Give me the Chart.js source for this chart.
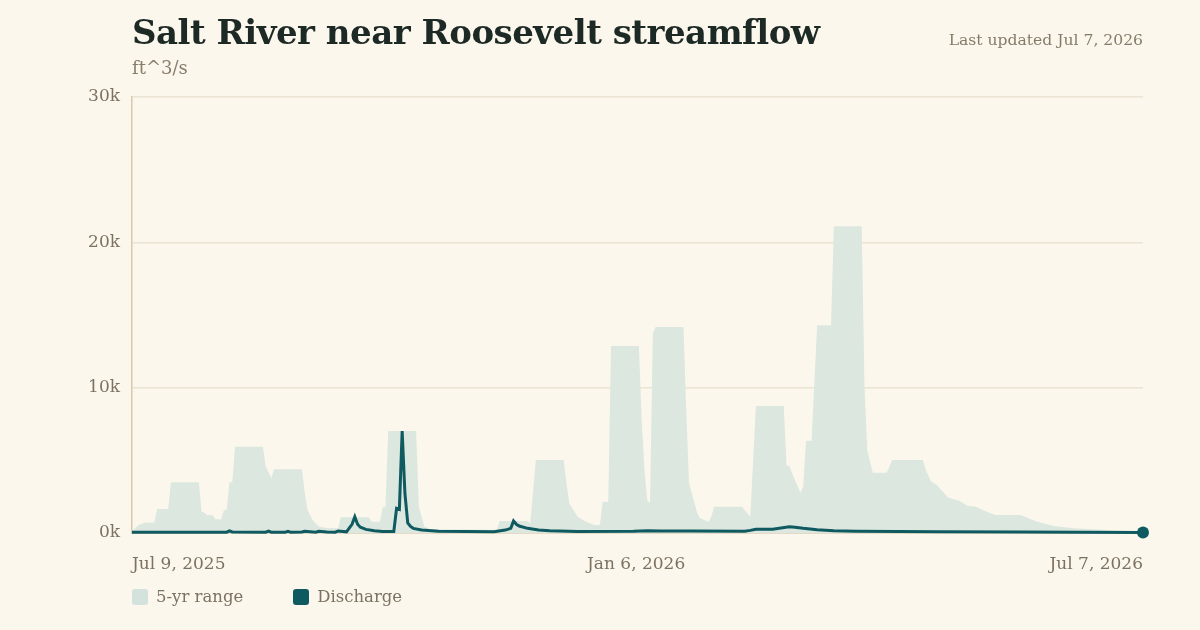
<!DOCTYPE html>
<html>
<head>
<meta charset="utf-8">
<script src="https://cdn.jsdelivr.net/npm/chart.js@4"></script>
<style>
  html, body { margin: 0; padding: 0; background: #fbf7ed; }
  #wrap { position: relative; width: 1200px; height: 630px; overflow: hidden; }
  #title { position: absolute; left: 132px; top: 12px; font: bold 34px "DejaVu Serif", serif; color: #1d2925; letter-spacing: -0.5px; }
  #unit { position: absolute; left: 132px; top: 57px; font: 18px "DejaVu Serif", serif; color: #877d6a; }
  #updated { position: absolute; right: 57px; top: 31px; font: 15.6px "DejaVu Serif", serif; color: #857b68; }
  #legend { position: absolute; left: 132px; top: 587px; font: 16.5px "DejaVu Serif", serif; color: #7c7261; display: flex; }
  .item { display: flex; align-items: center; margin-right: 50px; }
  .box { width: 16px; height: 16px; border-radius: 3px; margin-right: 8px; }
  canvas { position: absolute; left: 0; top: 0; }
</style>
</head>
<body>
<div id="wrap">
  <canvas id="chart" width="1200" height="630"></canvas>
  <div id="title">Salt River near Roosevelt streamflow</div>
  <div id="unit">ft^3/s</div>
  <div id="updated">Last updated Jul 7, 2026</div>
  <div id="legend">
    <div class="item"><div class="box" style="background:#d3e2dc"></div>5-yr range</div>
    <div class="item"><div class="box" style="background:#0f5a60"></div>Discharge</div>
  </div>
</div>
<script>
// days since Jul 9, 2025
var tickDays = [0, 181, 363];
var tickLabels = ['Jul 9, 2025', 'Jan 6, 2026', 'Jul 7, 2026'];
var yTicks = [0, 10000, 20000, 30000];

// 5-yr range (max), ft^3/s
var rangeDays = [0,1,2,3,5,8,9,13,14,24,25,26,27,29,30,32,33,34,35,36,37,47,48,50,51,61,62,63,64,65,67,70,74,75,85,86,89,90,91,92,102,103,105,107,131,132,142,143,145,155,156,157,160,163,166,168,169,171,172,182,183,184,185,186,187,188,198,199,200,203,204,207,208,209,219,222,224,234,235,236,238,240,241,242,244,246,251,252,262,263,264,266,271,273,284,285,287,289,293,297,300,303,306,310,319,325,331,338,345,352,363];
var rangeMax = [150,300,500,600,730,730,1650,1650,3500,3500,1460,1400,1220,1220,940,940,1580,1580,3500,3500,5930,5930,4600,3780,4380,4380,2800,1600,1200,850,450,350,330,1080,1080,780,780,1770,1770,7010,7010,1810,430,250,220,825,825,670,5020,5020,3415,2040,1120,780,550,550,2150,2150,12870,12870,7770,4330,2270,2040,13720,14180,14180,8450,3415,1350,1010,780,1120,1810,1810,1120,8730,8730,4670,4600,3640,2770,3180,6340,6340,14300,14300,21100,21100,10060,5700,4150,4150,5020,5020,4330,3530,3300,2450,2220,1880,1810,1530,1240,1240,780,480,320,250,180,100];

// discharge, ft^3/s
var dischargeDays = [0,10,20,34,35,36,48,49,50,55,56,57,61,62,66,67,70,73,74,77,79,80,81,82,84,87,90,94,95,96,97,98,99,100,101,104,110,130,134,136,137,138,139,142,146,150,160,180,185,190,200,220,222,224,230,236,238,241,246,252,260,290,320,340,363];
var discharge = [60,50,60,55,150,70,60,130,60,60,110,60,70,120,60,120,70,60,140,80,600,1120,600,400,250,150,100,100,1700,1630,7010,2700,700,450,320,200,120,80,200,320,825,600,480,320,200,150,100,120,150,140,130,120,180,250,260,430,400,320,220,150,120,90,70,60,30];

function pts(xs, ys) {
  return xs.map(function (x, i) { return { x: x, y: ys[i] }; });
}

var ctx = document.getElementById('chart').getContext('2d');
var lastIdx = discharge.length - 1;

new Chart(ctx, {
  type: 'line',
  data: {
    datasets: [{
      label: 'Discharge',
      data: pts(dischargeDays, discharge),
      borderColor: '#0f5a60',
      borderWidth: 3,
      tension: 0,
      fill: false,
      clip: false,
      pointRadius: function (c) { return c.dataIndex === lastIdx ? 6 : 0; },
      pointBackgroundColor: '#0f5a60',
      pointBorderWidth: 0,
      order: 0
    }, {
      label: '5-yr range',
      data: pts(rangeDays, rangeMax),
      borderWidth: 0,
      borderColor: 'rgba(0,0,0,0)',
      backgroundColor: '#dce7df',
      fill: 'origin',
      tension: 0,
      pointRadius: 0,
      order: 1
    }]
  },
  options: {
    responsive: false,
    animation: false,
    layout: { padding: { left: 0, right: 57, top: 97, bottom: 47 } },
    plugins: { legend: { display: false }, tooltip: { enabled: false } },
    scales: {
      x: {
        type: 'linear',
        min: 0,
        max: 363,
        afterBuildTicks: function (s) { s.ticks = tickDays.map(function (v) { return { value: v }; }); },
        afterFit: function (s) { s.height = 50; },
        grid: { display: false },
        border: { display: true, color: '#d8c9a8', width: 1.5 },
        ticks: {
          align: 'inner',
          maxRotation: 0,
          padding: 13,
          color: '#7c7261',
          font: { family: '"DejaVu Serif", serif', size: 17 },
          callback: function (v) { return tickLabels[tickDays.indexOf(v)]; }
        }
      },
      y: {
        min: 0,
        max: 30000,
        afterBuildTicks: function (s) { s.ticks = yTicks.map(function (v) { return { value: v }; }); },
        afterFit: function (s) { s.width = 132; },
        grid: { color: '#ece4d3', lineWidth: 1.5, drawTicks: false },
        border: { display: true, color: '#d8c9a8', width: 1.5 },
        ticks: {
          padding: 12,
          color: '#7c7261',
          font: { family: '"DejaVu Serif", serif', size: 17 },
          callback: function (v) { return (v / 1000) + 'k'; }
        }
      }
    }
  }
});
</script>
</body>
</html>
